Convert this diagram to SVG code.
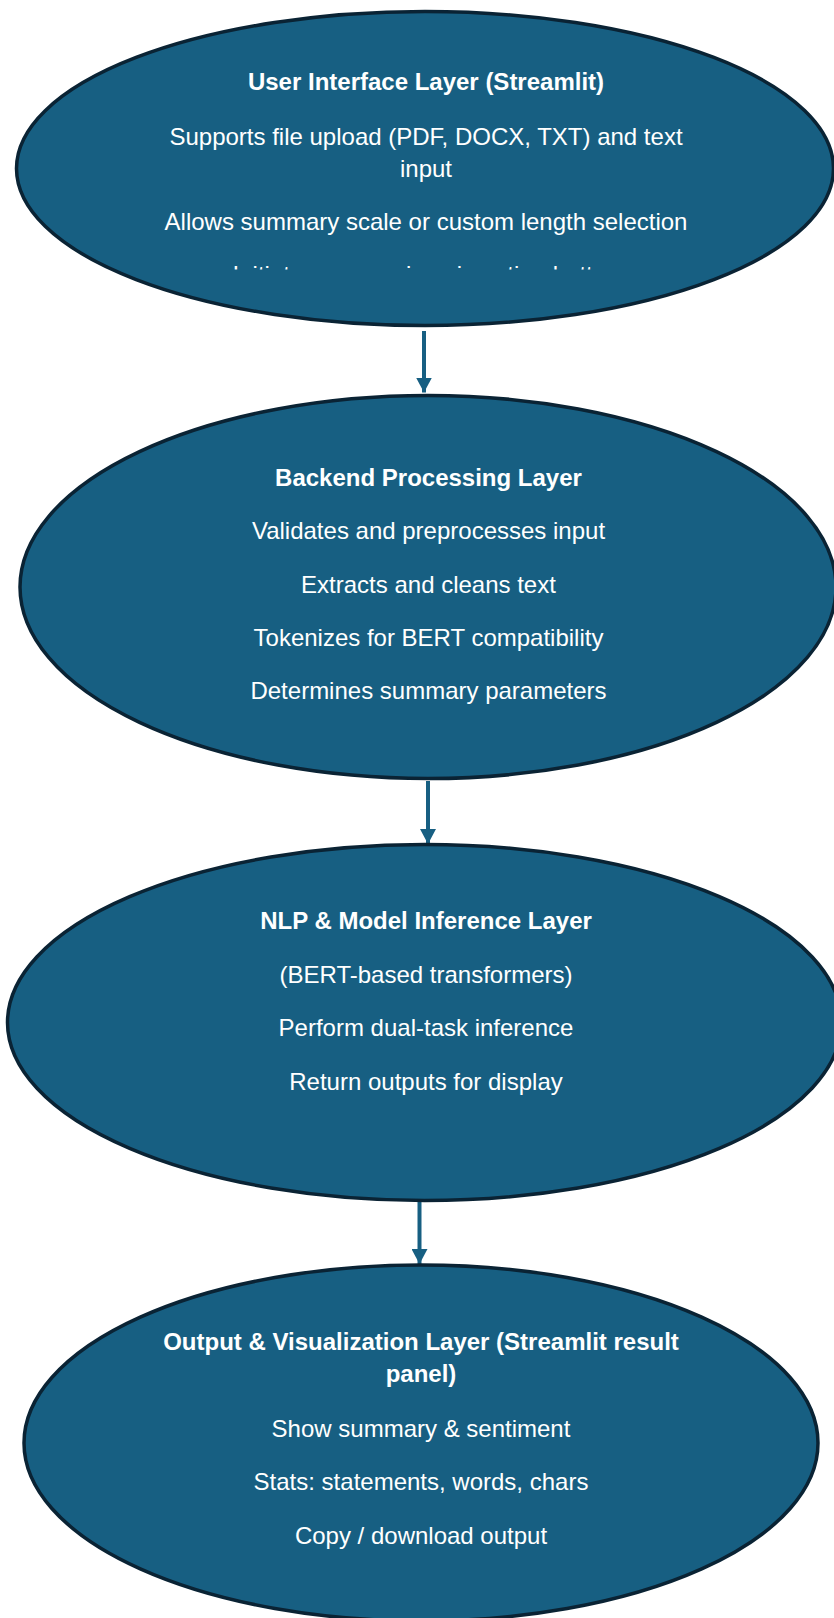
<svg xmlns="http://www.w3.org/2000/svg" width="834" height="1618" viewBox="0 0 834 1618">
  <style>
    .node { fill: #175f82; stroke: #0a2334; stroke-width: 3.5; }
    .t { font-family: "Liberation Sans", Arial, sans-serif; font-size: 24px; fill: #ffffff; text-anchor: middle; }
    .b { font-weight: bold; }
    .edge { stroke: #175f82; stroke-width: 4; fill: none; }
  </style>
  <defs>
    <marker id="arrow" markerUnits="userSpaceOnUse" markerWidth="16" markerHeight="16" refX="15" refY="8" orient="auto">
      <path d="M0,0 L15,8 L0,16 Z" fill="#175f82"/>
    </marker>
    <clipPath id="clipInit">
      <rect x="0" y="240" width="834" height="29.5"/>
    </clipPath>
  </defs>
  <rect width="834" height="1618" fill="#ffffff"/>

  <g id="connectors">
    <line class="edge" x1="424" y1="331" x2="424" y2="392.5" marker-end="url(#arrow)"/>
    <line class="edge" x1="428" y1="781" x2="428" y2="844" marker-end="url(#arrow)"/>
    <line class="edge" x1="419.5" y1="1202" x2="419.5" y2="1264" marker-end="url(#arrow)"/>
  </g>

  <g id="node-ui">
    <ellipse class="node" cx="425" cy="168.5" rx="408.5" ry="157"/>
    <text class="t b" x="426" y="90">User Interface Layer (Streamlit)</text>
    <text class="t" x="426" y="145">Supports file upload (PDF, DOCX, TXT) and text</text>
    <text class="t" x="426" y="177">input</text>
    <text class="t" x="426" y="230">Allows summary scale or custom length selection</text>
    <text class="t" x="426" y="282.5" clip-path="url(#clipInit)">Initiates processing via action button</text>
  </g>

  <g id="node-backend">
    <ellipse class="node" cx="428" cy="587" rx="408" ry="191.5"/>
    <text class="t b" x="428.5" y="485.5">Backend Processing Layer</text>
    <text class="t" x="428.5" y="539">Validates and preprocesses input</text>
    <text class="t" x="428.5" y="592.5">Extracts and cleans text</text>
    <text class="t" x="428.5" y="646">Tokenizes for BERT compatibility</text>
    <text class="t" x="428.5" y="699">Determines summary parameters</text>
  </g>

  <g id="node-nlp">
    <ellipse class="node" cx="424.5" cy="1022.5" rx="417" ry="178"/>
    <text class="t b" x="426" y="929">NLP &amp; Model Inference Layer</text>
    <text class="t" x="426" y="982.5">(BERT-based transformers)</text>
    <text class="t" x="426" y="1036">Perform dual-task inference</text>
    <text class="t" x="426" y="1090">Return outputs for display</text>
  </g>

  <g id="node-output">
    <ellipse class="node" cx="421" cy="1443" rx="397" ry="178"/>
    <text class="t b" x="421" y="1350">Output &amp; Visualization Layer (Streamlit result</text>
    <text class="t b" x="421" y="1382">panel)</text>
    <text class="t" x="421" y="1436.5">Show summary &amp; sentiment</text>
    <text class="t" x="421" y="1490">Stats: statements, words, chars</text>
    <text class="t" x="421" y="1543.5">Copy / download output</text>
  </g>
</svg>
